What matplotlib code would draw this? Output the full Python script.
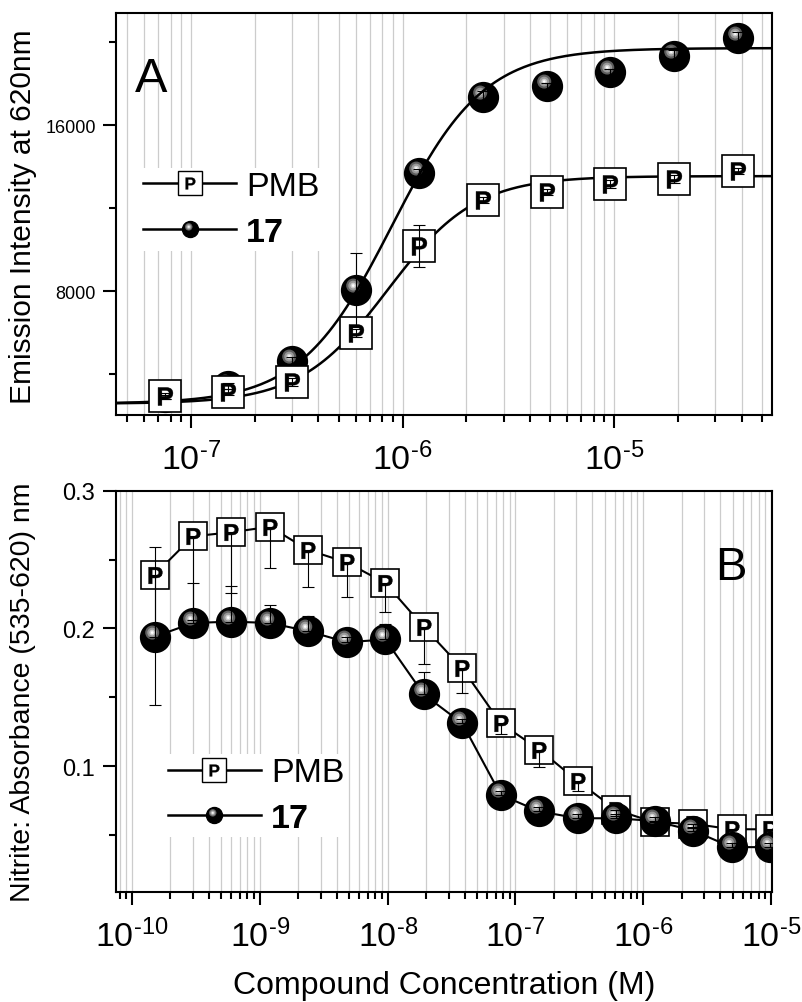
import numpy as np
import matplotlib
matplotlib.use('Agg')
import matplotlib.pyplot as plt
from matplotlib.path import Path
from matplotlib.lines import Line2D
from matplotlib.legend_handler import HandlerTuple
from matplotlib.ticker import (LogLocator, MultipleLocator, FormatStrFormatter, NullFormatter,
                               FuncFormatter)

plt.rcParams['font.family'] = ['Liberation Sans', 'DejaVu Sans']
plt.rcParams['mathtext.fontset'] = 'custom'
plt.rcParams['mathtext.rm'] = 'Liberation Sans'
plt.rcParams['mathtext.bf'] = 'Liberation Sans:bold'
plt.rcParams['mathtext.default'] = 'regular'

# panel A: emission intensity at 620 nm
conc_a = [7.5e-8, 1.5e-7, 3e-7, 6e-7, 1.2e-6, 2.4e-6, 4.8e-6, 9.6e-6, 1.92e-5, 3.84e-5]
pmb_a = [2940, 3130, 3620, 5980, 10170, 12390, 12770, 13160, 13400, 13790]
pmb_a_err = [150, 150, 200, 200, 1000, 150, 150, 200, 200, 150]
c17_a = [2900, 3420, 4630, 8050, 13690, 17350, 17880, 18550, 19330, 20190]
c17_a_err = [100, 150, 200, 1800, 200, 300, 150, 150, 300, 300]

# Hill fit parameters (bottom, top, x0, power)
fit_pmb = (2570, 13540, 8.5e-7, 2.1)
fit_17 = (2570, 19710, 8.9e-7, 2.0)

# panel B: nitrite absorbance
conc_b = [1.5e-10, 3e-10, 6e-10, 1.2e-9, 2.4e-9, 4.8e-9, 9.6e-9, 1.92e-8, 3.84e-8,
          7.68e-8, 1.536e-7, 3.072e-7, 6.144e-7, 1.2288e-6, 2.4576e-6, 4.9152e-6, 9.8304e-6]
pmb_b = [0.239, 0.267, 0.270, 0.274, 0.257, 0.248, 0.233, 0.201, 0.171,
         0.131, 0.112, 0.089, 0.068, 0.059, 0.058, 0.054, 0.054]
pmb_b_err = [0.095, 0.061, 0.044, 0.030, 0.027, 0.025, 0.021, 0.027, 0.018,
             0.008, 0.013, 0.007, 0.004, 0.003, 0.003, 0.003, 0.003]
c17_b = [0.194, 0.204, 0.205, 0.204, 0.198, 0.190, 0.192, 0.152, 0.131,
         0.079, 0.067, 0.062, 0.062, 0.060, 0.053, 0.041, 0.041]
c17_b_err = [0.065, 0.029, 0.026, 0.013, 0.011, 0.004, 0.011, 0.016, 0.003,
             0.003, 0.003, 0.003, 0.003, 0.003, 0.003, 0.003, 0.003]

ticks_a = [1e-7, 1e-6, 1e-5]
ticks_b = [1e-10, 1e-9, 1e-8, 1e-7, 1e-6, 1e-5]


def hill(x, p):
    a1, a2, x0, n = p
    return a1 + (a2 - a1) / (1 + (x0 / x) ** n)


def spot(cx, cy, r):
    # small circle inside the marker box, used for the shiny highlight of the balls
    c = Path.circle((cx, cy), r)
    verts = np.vstack([c.vertices, [[1, 1], [-1, -1]]])
    codes = np.concatenate([c.codes, [Path.MOVETO, Path.MOVETO]])
    return Path(verts, codes)


shine = [(spot(-0.22, 0.33, 0.47), '#5e5e5e'),
         (spot(-0.22, 0.33, 0.33), '#999999'),
         (spot(-0.22, 0.33, 0.19), '#d0d0d0'),
         (spot(-0.22, 0.33, 0.09), 'white')]


def pow10(v, pos):
    # plain hyphen in the exponent, like the original
    e = int(round(np.log10(v)))
    return r'$10^{\text{%d}}$' % e


def draw_balls(ax, x, y, ms, z):
    ax.plot(x, y, ls='none', marker='o', ms=ms, mfc='black', mec='black', zorder=z)
    for m, col in shine:
        ax.plot(x, y, ls='none', marker=m, ms=ms, mfc=col, mec='none', zorder=z + 0.1)


def draw_boxes(ax, x, y, ms, pms, z):
    ax.plot(x, y, ls='none', marker='s', ms=ms, mfc='white', mec='black', mew=1.2, zorder=z)
    ax.plot(x, y, ls='none', marker=r'$\mathbf{P}$', ms=pms, mfc='black', mec='black',
            mew=0.3, zorder=z + 0.1)


def legend_handles():
    h_pmb = (Line2D([], [], color='black', lw=1.8, marker='s', ms=17, mfc='white', mec='black', mew=1.0),
             Line2D([], [], ls='none', marker=r'$\mathbf{P}$', ms=8.5, mfc='black', mec='black', mew=0.2))
    h_17 = [Line2D([], [], color='black', lw=1.8, marker='o', ms=11.5, mfc='black', mec='black')]
    for m, col in shine:
        h_17.append(Line2D([], [], ls='none', marker=m, ms=11.5, mfc=col, mec='none'))
    return [h_pmb, tuple(h_17)]


def add_legend(ax, anchor, spacing):
    leg = ax.legend(legend_handles(), ['PMB', '17'],
                    handler_map={tuple: HandlerTuple(ndivide=1, pad=0)},
                    loc='upper left', bbox_to_anchor=anchor, frameon=True, fancybox=False,
                    edgecolor='none', facecolor='white', framealpha=1, fontsize=24.5,
                    handlelength=2.73, handletextpad=0.3, borderpad=0.1,
                    labelspacing=spacing, borderaxespad=0)
    leg.get_texts()[1].set_fontweight('bold')
    return leg


def style_axis(ax, ticks):
    for s in ax.spines.values():
        s.set_linewidth(1.5)
    ax.set_xscale('log')
    ax.set_xticks(ticks)
    ax.xaxis.set_major_formatter(FuncFormatter(pow10))
    ax.xaxis.set_minor_locator(LogLocator(base=10, subs=np.arange(2, 10), numticks=20))
    ax.xaxis.set_minor_formatter(NullFormatter())
    ax.tick_params(which='major', direction='out', length=9.5, width=1.5, top=False, right=False)
    ax.tick_params(which='minor', direction='out', length=5, width=1.5, top=False, right=False)
    ax.tick_params(axis='x', labelsize=24.5, pad=9.5)
    ax.grid(True, which='both', axis='x', color='#cccccc', lw=0.9)
    ax.set_axisbelow(True)


fig = plt.figure(figsize=(8.03, 10.03), dpi=100)
ax1 = fig.add_axes([0.1445, 0.5852, 0.817, 0.4008])
ax2 = fig.add_axes([0.1445, 0.1097, 0.817, 0.3998])

# ---- panel A ----
style_axis(ax1, ticks_a)
xs = np.logspace(np.log10(4.42e-8), np.log10(5.58e-5), 300)
draw_balls(ax1, conc_a, c17_a, 21.5, 3)
ax1.plot(xs, hill(xs, fit_17), color='black', lw=1.8, zorder=4)
ax1.plot(xs, hill(xs, fit_pmb), color='black', lw=1.8, zorder=4)
draw_boxes(ax1, conc_a, pmb_a, 23.5, 13, 5)
ax1.errorbar(conc_a, pmb_a, yerr=pmb_a_err, fmt='none', ecolor='black', elinewidth=0.8,
             capsize=4.5, capthick=0.8, zorder=6)
ax1.errorbar(conc_a, c17_a, yerr=c17_a_err, fmt='none', ecolor='black', elinewidth=0.8,
             capsize=4.5, capthick=0.8, zorder=6)
ax1.set_xlim(4.42e-8, 5.58e-5)
ax1.set_ylim(2024, 21400)
ax1.yaxis.set_major_locator(MultipleLocator(8000))
ax1.yaxis.set_minor_locator(MultipleLocator(4000))
ax1.tick_params(axis='y', labelsize=13, pad=5)
ax1.set_ylabel('Emission Intensity at 620nm', fontsize=21.5)
ax1.yaxis.label.set_verticalalignment('center')
ax1.yaxis.set_label_coords(-0.142, 0.495)
ax1.text(0.029, 0.806, 'A', transform=ax1.transAxes, fontsize=35, ha='left', va='baseline')
add_legend(ax1, (0.036, 0.615), 0.42)

# ---- panel B ----
style_axis(ax2, ticks_b)
ax2.plot(conc_b, pmb_b, color='black', lw=1.5, zorder=2)
draw_boxes(ax2, conc_b, pmb_b, 20, 12, 3)
ax2.plot(conc_b, c17_b, color='black', lw=1.5, zorder=3.5)
draw_balls(ax2, conc_b, c17_b, 21.5, 4)
ax2.errorbar(conc_b, pmb_b, yerr=[pmb_b_err, [0] * len(pmb_b)], fmt='none', ecolor='black',
             elinewidth=0.8, capsize=4.5, capthick=0.8, zorder=6)
ax2.errorbar(conc_b, c17_b, yerr=[[0] * len(c17_b), c17_b_err], fmt='none', ecolor='black',
             elinewidth=0.8, capsize=4.5, capthick=0.8, zorder=6)
ax2.set_xlim(7.5e-11, 1.018e-5)
ax2.set_ylim(0.0084, 0.3)
ax2.yaxis.set_major_locator(MultipleLocator(0.1))
ax2.yaxis.set_minor_locator(MultipleLocator(0.05))
ax2.yaxis.set_major_formatter(FormatStrFormatter('%.1f'))
ax2.tick_params(axis='y', labelsize=17, pad=6)
ax2.set_ylabel('Nitrite: Absorbance (535-620) nm', fontsize=20.5)
ax2.yaxis.label.set_verticalalignment('center')
ax2.yaxis.set_label_coords(-0.142, 0.5)
ax2.set_xlabel('Compound Concentration (M)', fontsize=23, labelpad=12)
ax2.text(0.913, 0.78, 'B', transform=ax2.transAxes, fontsize=34, ha='left', va='baseline')
add_legend(ax2, (0.074, 0.344), 0.42)

fig.savefig('out.png', dpi=100)
